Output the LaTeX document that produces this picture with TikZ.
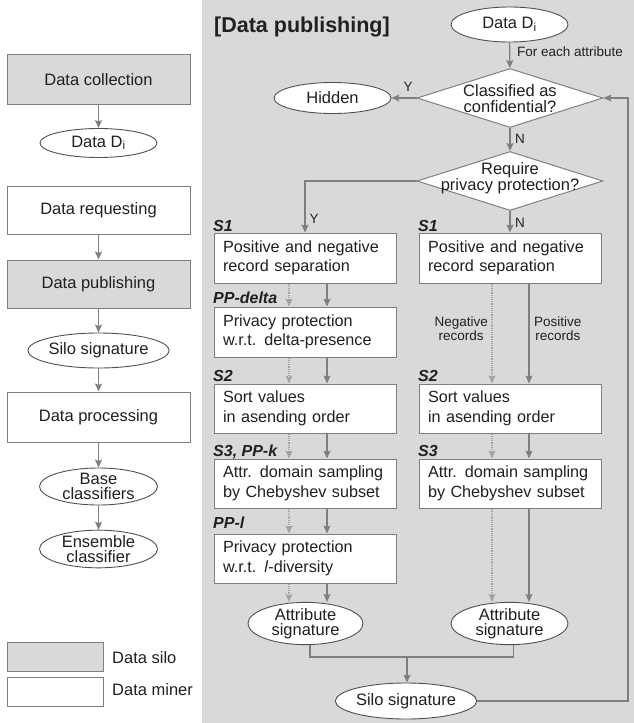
\documentclass[tikz,border=0pt]{standalone}
\usepackage{fontspec}
\setmainfont{Liberation Sans}
\usetikzlibrary{shapes.geometric,arrows.meta}
\definecolor{panelgray}{HTML}{D9D9D9}
\definecolor{linegray}{HTML}{7F7F7F}
\definecolor{dotgray}{HTML}{A3A3A3}
\definecolor{txt}{HTML}{231F20}
\definecolor{ellgray}{HTML}{505050}
\begin{document}
\begin{tikzpicture}[x=1pt,y=-1pt,
  every node/.style={text=txt,font=\fontsize{16.5}{19.5}\selectfont},
  box/.style={draw=linegray,line width=1pt,minimum width=182pt,minimum height=50pt,inner sep=0pt,fill=white},
  lbox/.style={box,minimum width=183pt},
  silo/.style={fill=panelgray},
  procbox/.style={box,text width=164pt,align=left,font=\fontsize{16.2}{19.5}\selectfont,
    execute at begin node={\hyphenpenalty=10000\exhyphenpenalty=10000}},
  ell/.style={ellipse,draw=ellgray,line width=0.9pt,fill=white,inner sep=0pt,minimum width=117pt,minimum height=31pt,align=center,font=\fontsize{16.5}{14.5}\selectfont},
  decision/.style={diamond,draw=linegray,line width=1pt,fill=white,inner sep=0pt,minimum width=186pt,minimum height=59pt},
  dtext/.style={align=center,inner sep=0pt,font=\fontsize{16.5}{16.5}\selectfont},
  slabel/.style={font=\fontsize{16}{18}\selectfont\bfseries\itshape,anchor=base west,inner sep=0pt},
  small/.style={font=\fontsize{13.5}{14}\selectfont,inner sep=0pt},
  ln/.style={draw=linegray,line width=1.2pt},
  arr/.style={ln,-{Stealth[length=8pt,width=7pt,inset=1.5pt]}},
  darr/.style={draw=dotgray,line width=1.2pt,densely dotted,-{Stealth[length=8pt,width=7pt,inset=1.5pt]}},
]
\useasboundingbox (0,0) rectangle (634,723);
\fill[panelgray] (202,0) rectangle (634,723);

% left column
\node[lbox,silo] (lcol) at (98.5,79.5) {Data collection};
\node[ell,minimum height=29pt] (ldi) at (98.5,143) {Data D\textsubscript{i}};
\node[lbox,minimum height=48pt] (lreq) at (98.5,210) {Data requesting};
\node[lbox,silo,minimum height=48pt] (lpub) at (98.5,284) {Data publishing};
\node[ell,minimum height=35pt,minimum width=118pt] (lsilo) at (98.5,350.5) {Silo signature};
\node[lbox] (lproc) at (98.5,417) {Data processing};
\node[ell,minimum height=37pt,minimum width=118pt] (lbase) at (98.5,486.5) {Base\\classifiers};
\node[ell,minimum height=33pt,minimum width=118pt] (lens) at (98.5,549) {Ensemble\\classifier};

\draw[arr] (lcol) -- (ldi);
\draw[arr] (lreq) -- (lpub);
\draw[arr] (lpub) -- (lsilo);
\draw[arr] (lsilo) -- (lproc);
\draw[arr] (lproc) -- (lbase);
\draw[arr] (lbase) -- (lens);

% legend
\node[box,silo,minimum width=96pt,minimum height=29pt] (legs) at (55,656.5) {};
\node[box,minimum width=96pt,minimum height=29pt] (legm) at (55,691.5) {};
\node[anchor=west,inner sep=0pt] (legst) at (112,658) {Data silo};
\node[anchor=west,inner sep=0pt] (legmt) at (112,690) {Data miner};

% right panel
\node[anchor=west,inner sep=0pt,font=\fontsize{21.5}{24}\selectfont\bfseries] (title) at (214,27) {[Data publishing]};
\node[ell,minimum height=35pt] (rdi) at (509.5,24.5) {Data D\textsubscript{i}};
\node[decision] (d1) at (510,98) {};
\node[dtext] (d1t) at (510,98.5) {Classified as\\confidential?};
\node[ell,minimum height=31pt] (hid) at (332.5,98) {Hidden};
\node[decision] (d2) at (510,181) {};
\node[dtext] (d2t) at (510,178) {Require\\privacy protection?};

\node[procbox] (l1) at (305,258) {Positive and negative\\record separation};
\node[procbox] (l2) at (305,332) {Privacy protection\\w.r.t. delta-presence};
\node[procbox,minimum height=49pt] (l3) at (305,408.5) {Sort values\\in asending order};
\node[procbox,minimum height=49pt] (l4) at (305,483.5) {Attr. domain sampling\\by Chebyshev subset};
\node[procbox,minimum height=49pt] (l5) at (305,558.5) {Privacy protection\\w.r.t. \textit{l}-diversity};
\node[procbox] (r1) at (510,258) {Positive and negative\\record separation};
\node[procbox,minimum height=49pt] (r3) at (510,408.5) {Sort values\\in asending order};
\node[procbox,minimum height=49pt] (r4) at (510,483.5) {Attr. domain sampling\\by Chebyshev subset};

\node[ell,minimum width=115pt] (as1) at (305.5,623.5) {Attribute\\signature};
\node[ell] (as2) at (509.5,623.5) {Attribute\\signature};
\node[ell,minimum width=118pt,minimum height=36pt] (rsilo) at (406,701) {Silo signature};

\node[slabel] (ls1) at (213,231) {S1};
\node[slabel] (lppd) at (213,303) {PP-delta};
\node[slabel] (ls2) at (213,381) {S2};
\node[slabel] (ls3) at (213,456) {S3, PP-k};
\node[slabel] (lppl) at (213,528) {PP-l};
\node[slabel] (rs1) at (418,231) {S1};
\node[slabel] (rs2) at (418,381) {S2};
\node[slabel] (rs3) at (418,456) {S3};

\node[small,anchor=west] (fea) at (517,52) {For each attribute};
\node[small] (y1) at (408,87) {Y};
\node[small] (n1) at (520,139) {N};
\node[small] (y2) at (314,219) {Y};
\node[small] (n2) at (520,223) {N};
\node[small,align=center,anchor=east] (neg) at (488,329) {Negative\\records};
\node[small,align=center,anchor=west] (pos) at (534,329) {Positive\\records};

\coordinate (xLd) at (289,0);
\coordinate (xLs) at (327,0);
\coordinate (xRd) at (492,0);
\coordinate (xRs) at (529,0);
\coordinate (jl) at (310,657);
\coordinate (jr) at (513.5,657);
\coordinate (jm) at (407,657);
\coordinate (lc) at (628,98);

\draw[arr] (rdi) -- (d1);
\draw[arr] (d1.west) -- (hid.east);
\draw[arr] (d1.south) -- (d2.north);
\draw[arr] (d2.west) -| (l1.north);
\draw[arr] (d2.south) -- (r1.north);

\draw[darr] (l1.south -| xLd) -- (l2.north -| xLd);
\draw[arr] (l1.south -| xLs) -- (l2.north -| xLs);
\draw[darr] (l2.south -| xLd) -- (l3.north -| xLd);
\draw[arr] (l2.south -| xLs) -- (l3.north -| xLs);
\draw[darr] (l3.south -| xLd) -- (l4.north -| xLd);
\draw[arr] (l3.south -| xLs) -- (l4.north -| xLs);
\draw[darr] (l4.south -| xLd) -- (l5.north -| xLd);
\draw[arr] (l4.south -| xLs) -- (l5.north -| xLs);
\draw[darr] (l5.south -| xLd) -- (as1.north -| xLd);
\draw[arr] (l5.south -| xLs) -- (as1.north -| xLs);

\draw[darr] (r1.south -| xRd) -- (r3.north -| xRd);
\draw[arr] (r1.south -| xRs) -- (r3.north -| xRs);
\draw[darr] (r3.south -| xRd) -- (r4.north -| xRd);
\draw[arr] (r3.south -| xRs) -- (r4.north -| xRs);
\draw[darr] (r4.south -| xRd) -- (as2.north -| xRd);
\draw[arr] (r4.south -| xRs) -- (as2.north -| xRs);

\draw[ln] (as1.south -| jl) |- (jr) -- (as2.south -| jr);
\draw[arr] (jm) -- (rsilo.north -| jm);
\draw[arr] (rsilo.east) -| (lc) -- (d1.east);
\end{tikzpicture}
\end{document}
